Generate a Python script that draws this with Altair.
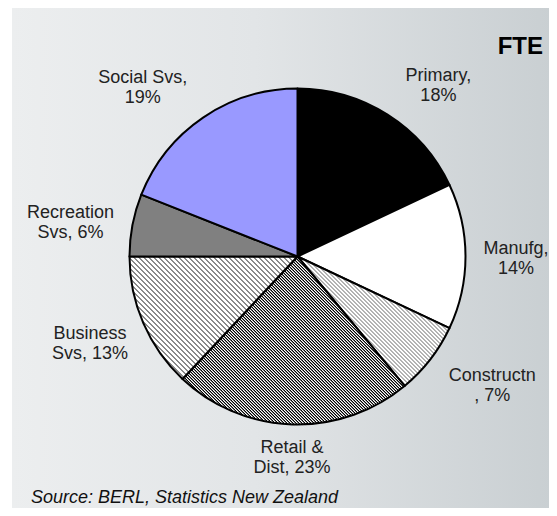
import math
import altair as alt
import pandas as pd

# ---- data ----
categories = ["Primary", "Manufg", "Constructn", "Retail & Dist",
              "Business Svs", "Recreation Svs", "Social Svs"]
values = [18, 14, 7, 23, 13, 6, 19]
first_lines = ["Primary,", "Manufg,", "Constructn", "Retail &",
               "Business", "Recreation", "Social Svs,"]
title_text = "FTE"
source_text = "Source: BERL, Statistics New Zealand"

labels = []
for c, v, f in zip(categories, values, first_lines):
    full = f"{c}, {v}%"
    labels.append(f + "\n" + full[len(f):].strip())

df = pd.DataFrame({"cat": categories, "value": values,
                   "order": list(range(len(categories))), "label": labels})

# ---- layout / style ----
W, H = 541, 500
CX, CY, R = 289.5, 248.5, 168
LABEL_R = 220
TAU = 2 * math.pi


def sector_bbox(f0, f1, r):
    a0, a1 = f0 / 100 * TAU, f1 / 100 * TAU
    pts = [(0, 0), (r * math.sin(a0), -r * math.cos(a0)),
           (r * math.sin(a1), -r * math.cos(a1))]
    for k in range(5):
        a = k * math.pi / 2
        if a0 < a < a1:
            pts.append((r * math.sin(a), -r * math.cos(a)))
    xs = [p[0] for p in pts]
    ys = [p[1] for p in pts]
    return max(xs) - min(xs), max(ys) - min(ys)


def stripes(w, h, hperiod, frac, c1, c2, edge=0.6):
    """45-degree downward-diagonal hatch as a many-stop linear gradient."""
    L = (w + h) / math.sqrt(2)          # length of gradient along its normal
    P = hperiod / math.sqrt(2)          # period measured perpendicular
    s = (w + h) / (w * w + h * h)
    stops = []

    def add(pos, col):
        off = pos / L
        if 0 <= off <= 1:
            stops.append({"offset": round(off, 6), "color": col})

    k = 0
    while k * P <= L:
        a = k * P
        add(a + edge / 2, c1)
        add(a + frac * P - edge / 2, c1)
        add(a + frac * P + edge / 2, c2)
        add(a + P - edge / 2, c2)
        k += 1
    return {"gradient": "linear", "x1": 0, "y1": 1,
            "x2": round(w * s, 6), "y2": round(1 - h * s, 6), "stops": stops}


cum = 0
bounds = {}
for c, v in zip(categories, values):
    bounds[c] = (cum, cum + v)
    cum += v

stripe_style = {
    "Constructn": (4, 0.45, "#b0b0b0", "#ffffff"),
    "Retail & Dist": (3, 0.5, "#000000", "#ffffff"),
    "Business Svs": (5, 0.4, "#8a8a8a", "#ffffff"),
}
solid = {"Primary": "#000000", "Manufg": "#ffffff",
         "Recreation Svs": "#808080", "Social Svs": "#9999ff"}

fills = {}
for c in categories:
    if c in stripe_style:
        w, h = sector_bbox(*bounds[c], R)
        fills[c] = stripes(w, h, *stripe_style[c])
    else:
        fills[c] = solid[c]

label_offsets = {
    "Primary": (23, 5),
    "Manufg": (-1.5, -7.5),
    "Constructn": (21, -15.5),
    "Retail & Dist": (1.5, -28.5),
    "Business Svs": (-5.5, -10),
    "Recreation Svs": (-11, -2.5),
    "Social Svs": (-31, 3),
}

theta_scale = alt.Scale(domain=[0, 100], range=[0, TAU])

base = alt.Chart(df).transform_window(
    cum="sum(value)", sort=[alt.SortField("order")], frame=[None, 0]
).transform_calculate(
    start="datum.cum - datum.value", mid="datum.cum - datum.value / 2"
)

deco = alt.Chart(pd.DataFrame({"k": [0]}))

bg = deco.mark_rect(
    fill={"gradient": "linear", "x1": 0, "y1": 0, "x2": 1, "y2": 0,
          "stops": [{"offset": 0, "color": "#eceeef"},
                    {"offset": 0.45, "color": "#e2e5e7"},
                    {"offset": 1, "color": "#c9cfd2"}]}
).encode(x=alt.value(4), x2=alt.value(544), y=alt.value(0), y2=alt.value(500))

layers = [bg]
for c in categories:
    layers.append(
        base.transform_filter(alt.datum.cat == c).mark_arc(
            fill=fills[c], stroke="#000000", strokeWidth=2, strokeJoin="round"
        ).encode(
            theta=alt.Theta("start:Q", scale=theta_scale, stack=None),
            theta2="cum:Q",
            radius=alt.value(R),
            x=alt.value(CX), y=alt.value(CY),
        )
    )

for c in categories:
    dx, dy = label_offsets[c]
    layers.append(
        base.transform_filter(alt.datum.cat == c).mark_text(
            font="Liberation Sans", fontSize=18, color="#222222",
            align="center", baseline="middle", lineBreak="\n",
            lineHeight=20, dx=dx, dy=dy
        ).encode(
            theta=alt.Theta("mid:Q", scale=theta_scale, stack=None),
            radius=alt.value(LABEL_R),
            x=alt.value(CX), y=alt.value(CY),
            text="label:N",
        )
    )

layers.append(
    deco.mark_text(font="Liberation Sans", fontSize=24, fontWeight="bold",
                   color="#000000", align="right", baseline="middle"
                   ).encode(x=alt.value(535), y=alt.value(39),
                            text=alt.value(title_text))
)
layers.append(
    deco.mark_text(font="Liberation Sans", fontSize=18, fontStyle="italic",
                   color="#111111", align="left", baseline="middle"
                   ).encode(x=alt.value(23), y=alt.value(490),
                            text=alt.value(source_text))
)

chart = alt.layer(*layers).properties(
    width=W, height=H, autosize=alt.AutoSizeParams(type="none"), padding=0,
    background="#ffffff"
).configure_view(stroke=None)

chart.save("out.html", embed_options={"renderer": "svg", "actions": False})
